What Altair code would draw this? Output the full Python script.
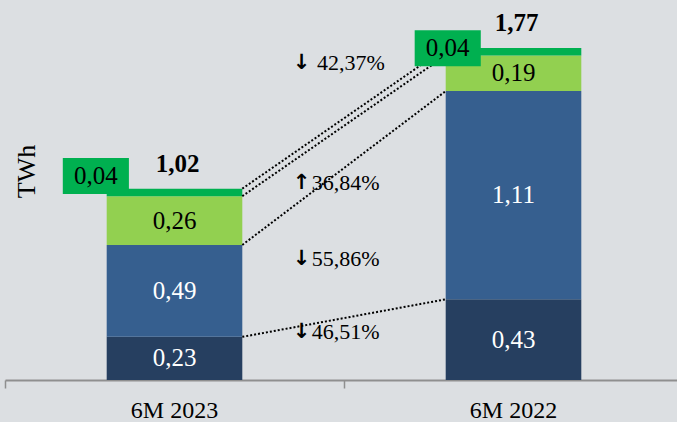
import altair as alt
import pandas as pd

# ---- data -------------------------------------------------------------
categories = ["6M 2023", "6M 2022"]
segment_names = ["Segment A", "Segment B", "Segment C", "Segment D"]
values_2023 = [0.23, 0.49, 0.26, 0.04]
values_2022 = [0.43, 1.11, 0.19, 0.04]
totals = [1.02, 1.77]
segment_colors = ["#263f60", "#365f8f", "#92d050", "#00b050"]
segment_text_colors = ["white", "white", "black", "black"]

# year-over-year changes, listed from the top connector down
change_labels = ["42,37%", "36,84%", "55,86%", "46,51%"]
change_dirs = ["down", "up", "down", "down"]
change_label_y = [1.690, 1.050, 0.645, 0.255]
change_label_x = [0.920, 0.905, 0.905, 0.905]

# call-out boxes for the smallest segment (centre x, centre y)
box_x = [0.268, 1.306]
box_y = [1.088, 1.768]
box_w = 0.195
box_h = 0.192

BAR_HALF = 0.2
FONT = "Liberation Serif"


def fmt(v):
    return f"{v:.2f}".replace(".", ",")


# ---- tables -----------------------------------------------------------
rows = []
for i, (cat, vals) in enumerate(zip(categories, [values_2023, values_2022])):
    base = 0.0
    for j, v in enumerate(vals):
        rows.append({
            "cat": cat, "seg": segment_names[j], "order": j,
            "x0": i + 0.5 - BAR_HALF, "x1": i + 0.5 + BAR_HALF, "xc": i + 0.5,
            "y0": base, "y1": base + v, "ym": base + v / 2,
            "label": fmt(v), "tcolor": segment_text_colors[j],
        })
        base += v
bars = pd.DataFrame(rows)

# dotted connectors between matching segment tops
conn = []
for j in range(len(segment_names)):
    top23 = sum(values_2023[: j + 1])
    top22 = sum(values_2022[: j + 1])
    conn.append({"k": j, "x": 0.5 + BAR_HALF, "y": top23})
    conn.append({"k": j, "x": 1.5 - BAR_HALF, "y": top22})
connectors = pd.DataFrame(conn)

boxes = pd.DataFrame({
    "x0": [x - box_w / 2 for x in box_x], "x1": [x + box_w / 2 for x in box_x],
    "y0": [y - box_h / 2 for y in box_y], "y1": [y + box_h / 2 for y in box_y],
    "xc": box_x, "yc": box_y,
    "label": [fmt(values_2023[3]), fmt(values_2022[3])],
})

tot = pd.DataFrame({"xc": [0.5, 1.5], "y": totals, "label": [fmt(t) for t in totals]})
cats = pd.DataFrame({"xc": [0.5, 1.5], "y": [0, 0], "label": categories})
changes = pd.DataFrame({
    "arrow": ["↓" if d == "down" else "↑" for d in change_dirs],
    "label": change_labels,
    "y": change_label_y,
    "xa": [0.875] * 4,
    "xt": change_label_x,
})

# ---- scales -----------------------------------------------------------
xs = alt.Scale(domain=[0, 672 / 339], nice=False, zero=False)
ys = alt.Scale(domain=[0, 380 / 187.6], nice=False)

x_axis = alt.Axis(values=[0, 1], labels=False, ticks=True, tickSize=8,
                  tickColor="#8f8f8f", tickWidth=1.5, domainColor="#8f8f8f",
                  domainWidth=2, grid=False, title=None)
y_axis = alt.Axis(labels=False, ticks=False, domain=False, grid=False,
                  title="TWh", titleFont=FONT, titleFontSize=26,
                  titleFontWeight="normal", titleColor="black",
                  titleX=21, titleY=171, titleAngle=270,
                  titleAlign="center", titleBaseline="middle")

bar_layer = alt.Chart(bars).mark_rect().encode(
    x=alt.X("x0:Q", scale=xs, axis=x_axis),
    x2="x1:Q",
    y=alt.Y("y0:Q", scale=ys, axis=y_axis),
    y2="y1:Q",
    color=alt.Color("seg:N", scale=alt.Scale(domain=segment_names, range=segment_colors),
                    legend=None),
)

conn_layer = alt.Chart(connectors).mark_line(
    color="black", strokeDash=[2, 2], strokeWidth=2
).encode(x=alt.X("x:Q", scale=xs), y=alt.Y("y:Q", scale=ys), detail="k:N")

box_layer = alt.Chart(boxes).mark_rect(color="#00b050").encode(
    x=alt.X("x0:Q", scale=xs), x2="x1:Q",
    y=alt.Y("y0:Q", scale=ys), y2="y1:Q",
)

box_text = alt.Chart(boxes).mark_text(font=FONT, fontSize=25, color="black").encode(
    x=alt.X("xc:Q", scale=xs), y=alt.Y("yc:Q", scale=ys), text="label:N"
)

seg_text = alt.Chart(bars[bars["order"] < 3]).mark_text(font=FONT, fontSize=25).encode(
    x=alt.X("xc:Q", scale=xs), y=alt.Y("ym:Q", scale=ys), text="label:N",
    color=alt.Color("tcolor:N", scale=None),
)

tot_text = alt.Chart(tot).mark_text(
    font=FONT, fontSize=25, fontWeight="bold", color="black", dx=3, dy=-25
).encode(x=alt.X("xc:Q", scale=xs), y=alt.Y("y:Q", scale=ys), text="label:N")

cat_text = alt.Chart(cats).mark_text(
    font=FONT, fontSize=24, color="black", dy=31
).encode(x=alt.X("xc:Q", scale=xs), y=alt.Y("y:Q", scale=ys), text="label:N")

arrow_text = alt.Chart(changes).mark_text(
    font="DejaVu Sans", fontSize=21, fontWeight="bold", color="black", align="center"
).encode(x=alt.X("xa:Q", scale=xs), y=alt.Y("y:Q", scale=ys), text="arrow:N")

pct_text = alt.Chart(changes).mark_text(
    font=FONT, fontSize=22, color="black", align="left"
).encode(x=alt.X("xt:Q", scale=xs), y=alt.Y("y:Q", scale=ys), text="label:N")

chart = alt.layer(
    bar_layer, conn_layer, box_layer, box_text, seg_text, tot_text,
    cat_text, arrow_text, pct_text
).properties(
    width=672, height=380,
    padding={"left": 5, "top": 0, "right": 0, "bottom": 42},
    autosize=alt.AutoSizeParams(type="none"),
    background="#dcdfe2",
).configure_view(stroke=None)

chart.save("out.html", embed_options={"renderer": "svg", "actions": False})
